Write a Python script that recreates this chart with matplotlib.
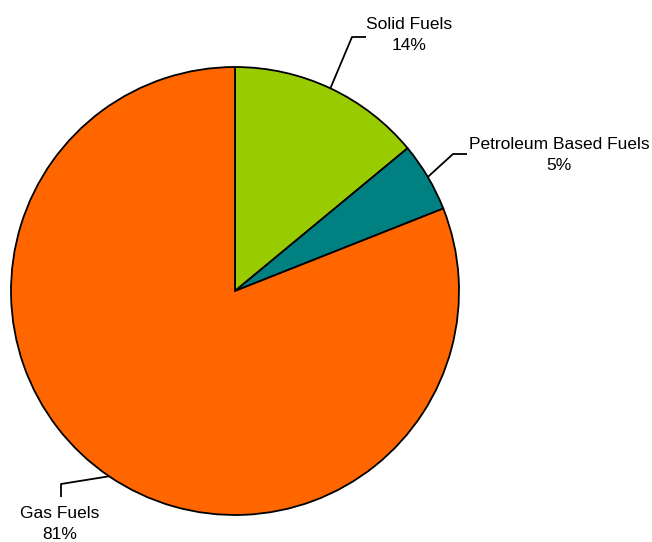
import numpy as np
import matplotlib
matplotlib.use("Agg")
import matplotlib.pyplot as plt

# Fuel share data
labels = ["Solid Fuels", "Petroleum Based Fuels", "Gas Fuels"]
shares = [14, 5, 81]
colors = ["#99CC00", "#008080", "#FF6600"]

W, H = 652, 542
fig = plt.figure(figsize=(W / 100, H / 100), dpi=100)
ax = fig.add_axes([0, 0, 1, 1])

cx, cy, r = 235, H - 291, 224
wedges, _ = ax.pie(shares, colors=colors, startangle=90, counterclock=False,
                   center=(cx, cy), radius=r, frame=True,
                   wedgeprops=dict(edgecolor="black", linewidth=1.3))
ax.set_xlim(0, W)
ax.set_ylim(0, H)
ax.set_aspect("equal")
ax.axis("off")

# elbow point and label position (pixels from top-left) for each slice
elbows = [(352, 37, 366), (453, 154, 467), (61, 484, 61)]
text_pos = [(409, 35), (559, 155), (60, 524)]

font = dict(family=["Liberation Sans", "DejaVu Sans"], fontsize=12.5)
for w, (ex, ey, hx), (tx, ty), lab, s in zip(wedges, elbows, text_pos, labels, shares):
    mid = np.deg2rad((w.theta1 + w.theta2) / 2)
    sx, sy = cx + r * np.cos(mid), cy + r * np.sin(mid)
    if lab == "Gas Fuels":
        xs = [sx, ex, ex]
        ys = [sy, H - ey, H - 497]
    else:
        xs = [sx, ex, hx]
        ys = [sy, H - ey, H - ey]
    ax.plot(xs, ys, color="black", linewidth=1.3, solid_capstyle="butt")
    ax.text(tx, H - ty, f"{lab}\n{s}%", ha="center", va="center",
            linespacing=1.5, **font)

fig.savefig("out.png", dpi=100)
